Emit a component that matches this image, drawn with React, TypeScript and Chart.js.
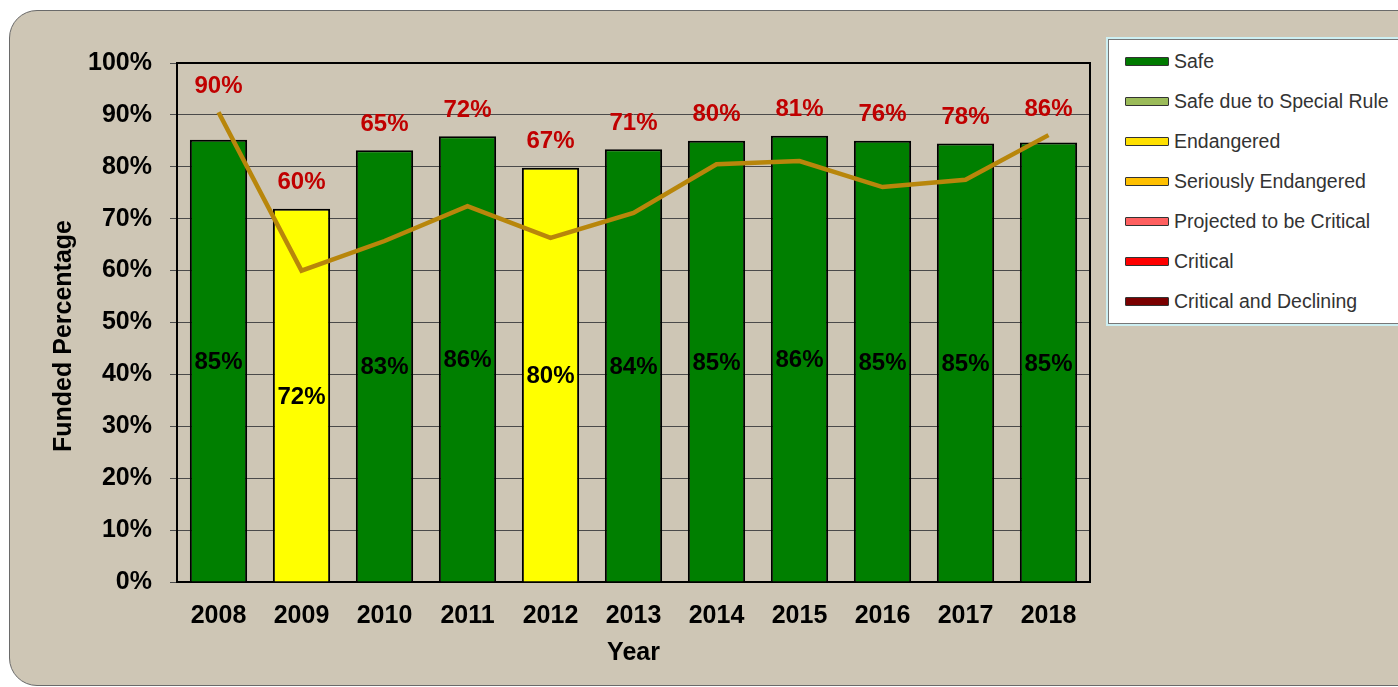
import React, { useEffect, useRef } from 'react';
import { Chart, registerables } from 'chart.js';

Chart.register(...registerables);

const years = ['2008', '2009', '2010', '2011', '2012', '2013', '2014', '2015', '2016', '2017', '2018'];
const fundedValues = [85.2, 71.9, 83.2, 85.9, 79.8, 83.4, 85.0, 86.0, 85.0, 84.5, 84.7];
const fundedLabels = ['85%', '72%', '83%', '86%', '80%', '84%', '85%', '86%', '85%', '85%', '85%'];
const zoneColors = ['#007F00', '#FFFF00', '#007F00', '#007F00', '#FFFF00', '#007F00', '#007F00', '#007F00', '#007F00', '#007F00', '#007F00'];
const lineValues = [90.5, 60.0, 65.7, 72.4, 66.3, 71.1, 80.5, 81.1, 76.1, 77.5, 86.1];
const lineLabels = ['90%', '60%', '65%', '72%', '67%', '71%', '80%', '81%', '76%', '78%', '86%'];
const legendNames = ['Safe', 'Safe due to Special Rule', 'Endangered', 'Seriously Endangered', 'Projected to be Critical', 'Critical', 'Critical and Declining'];
const legendColors = ['#007A00', '#9BBB59', '#FFE000', '#FFC000', '#FF6060', '#FF0000', '#7A0000'];
const yTitle = 'Funded Percentage';
const xTitle = 'Year';

const FONT = '"Liberation Sans", Arial, Helvetica, sans-serif';

const framePlugin = {
  id: 'frame',
  beforeDatasetsDraw(chart: any) {
    const { ctx, chartArea: a } = chart;
    ctx.save();
    ctx.strokeStyle = '#000';
    ctx.lineWidth = 2;
    ctx.strokeRect(a.left, a.top, a.right - a.left, a.bottom - a.top);
    ctx.restore();
  },
  afterDraw(chart: any) {
    const { ctx } = chart;
    ctx.save();
    ctx.translate(64, 336);
    ctx.rotate(-Math.PI / 2);
    ctx.font = `bold 25px ${FONT}`;
    ctx.fillStyle = '#000';
    ctx.textAlign = 'center';
    ctx.textBaseline = 'middle';
    ctx.fillText(yTitle, 0, 0);
    ctx.restore();
  },
};

const labelPlugin = {
  id: 'valueLabels',
  afterDatasetsDraw(chart: any) {
    const { ctx } = chart;
    const lineMeta = chart.getDatasetMeta(0);
    const barMeta = chart.getDatasetMeta(1);
    ctx.save();
    ctx.font = `bold 24px ${FONT}`;
    ctx.textAlign = 'center';
    ctx.textBaseline = 'middle';
    barMeta.data.forEach((bar: any, i: number) => {
      ctx.fillStyle = '#000';
      ctx.fillText(fundedLabels[i], bar.x, (bar.y + bar.base) / 2 + 2);
    });
    lineMeta.data.forEach((pt: any, i: number) => {
      const barTop = barMeta.data[i].y;
      const y = Math.min(barTop, pt.y) - 26;
      ctx.fillStyle = '#C00000';
      ctx.fillText(lineLabels[i], pt.x, y);
    });
    ctx.restore();
  },
};

function ChartCanvas() {
  const ref = useRef<HTMLCanvasElement | null>(null);
  useEffect(() => {
    if (!ref.current) return;
    const chart = new Chart(ref.current, {
      type: 'bar',
      data: {
        labels: years,
        datasets: [
          {
            type: 'line',
            data: lineValues,
            borderColor: '#B8860B',
            borderWidth: 4.5,
            pointRadius: 0,
            tension: 0,
            fill: false,
            order: 0,
          } as any,
          {
            type: 'bar',
            data: fundedValues,
            backgroundColor: zoneColors,
            borderColor: '#000',
            borderWidth: 2,
            barPercentage: 0.69,
            categoryPercentage: 1,
            order: 1,
          } as any,
        ],
      },
      options: {
        responsive: false,
        animation: false,
        layout: { padding: { top: 63, right: 10, left: 0, bottom: 0 } },
        plugins: { legend: { display: false }, tooltip: { enabled: false } },
        scales: {
          x: {
            grid: { display: false },
            border: { display: false },
            ticks: { color: '#000', font: { family: FONT, size: 25, weight: 'bold' }, padding: 11 },
            title: {
              display: true,
              text: xTitle,
              color: '#000',
              font: { family: FONT, size: 25, weight: 'bold' },
              padding: { top: 0, bottom: 19 },
            },
            afterFit: (s: any) => {
              s.height = 105;
            },
          },
          y: {
            min: 0,
            max: 100,
            ticks: {
              stepSize: 10,
              color: '#000',
              font: { family: FONT, size: 25, weight: 'bold' },
              padding: 18,
              callback: (v: any) => v + '%',
            },
            grid: { color: '#4a4a4a', lineWidth: 1, tickLength: 7 },
            border: { display: false },
            title: { display: false },
            afterFit: (s: any) => {
              s.width = 177;
            },
          },
        },
      } as any,
      plugins: [framePlugin, labelPlugin],
    });
    return () => chart.destroy();
  }, []);
  return <canvas ref={ref} width={1100} height={687} style={{ position: 'absolute', left: 0, top: 0, width: 1100, height: 687 }} />;
}

export default function App() {
  return (
    <div style={{ position: 'fixed', left: 0, top: 0, width: 1398, height: 687, overflow: 'hidden', background: '#fff' }}>
      <div
        style={{
          position: 'absolute',
          left: 9,
          top: 10,
          width: 1430,
          height: 674,
          background: '#CEC6B5',
          border: '1.5px solid #6a6a6a',
          borderRadius: 28,
        }}
      />
      <ChartCanvas />
      <div
        style={{
          position: 'absolute',
          left: 1108,
          top: 39,
          width: 320,
          height: 283,
          background: '#fff',
          border: '1.5px solid #777',
          boxShadow: '0 0 0 2px #cdeff2',
        }}
      >
        {legendNames.map((name, i) => (
          <div
            key={name}
            style={{
              position: 'absolute',
              left: 16,
              top: 21 + i * 40 - 12,
              height: 24,
              display: 'flex',
              alignItems: 'center',
              whiteSpace: 'nowrap',
              fontFamily: FONT,
              fontSize: 19.5,
              color: '#333',
            }}
          >
            <span
              style={{
                display: 'inline-block',
                width: 42,
                height: 7,
                background: legendColors[i],
                border: '1.5px solid #333',
                borderRadius: 1,
                marginRight: 5,
              }}
            />
            {name}
          </div>
        ))}
      </div>
    </div>
  );
}
